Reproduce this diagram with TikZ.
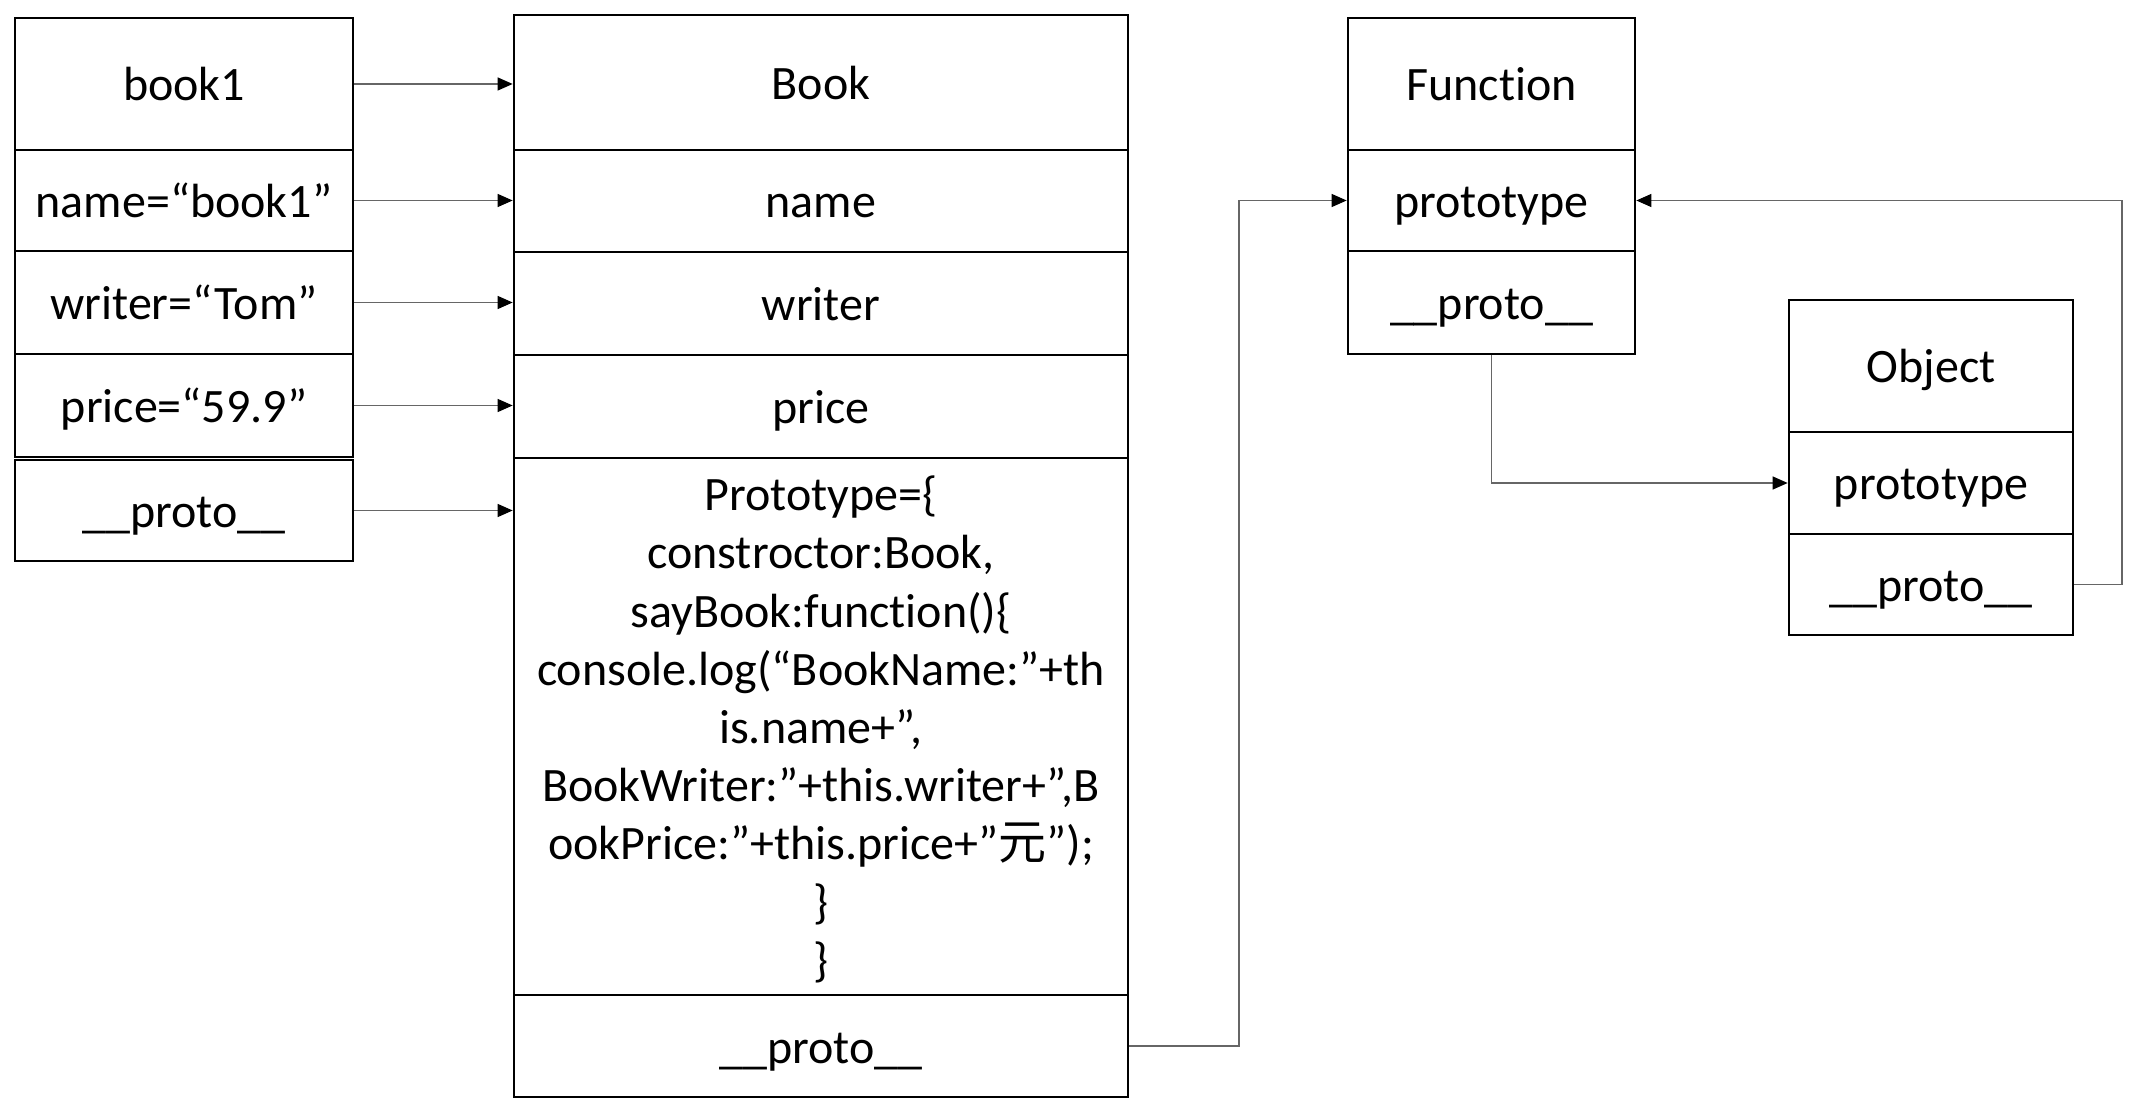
\documentclass[tikz,border=0pt]{standalone}
\usepackage{fontspec}
\setmainfont{Carlito}[Ligatures=NoCommon]
\newfontfamily\cjkfont{Noto Sans CJK SC}
\usetikzlibrary{arrows.meta,calc}
\newcommand\ystrut{\rule[-7pt]{0pt}{31pt}}
\newcommand\mkcell[6]{%
  \node[cell, minimum width={(#4-#2)*0.5pt}, minimum height={(#5-#3)*0.5pt}]
    (#1) at ({(#2+#4)/2},{(#3+#5)/2}) {#6};}
\begin{document}
\begin{tikzpicture}[x=0.5pt,y=-0.5pt,
  cell/.style={draw, line width=1.35pt, inner sep=0pt, align=center,
    font=\fontsize{24}{29.1}\selectfont},
  conn/.style={draw=black!60, line width=0.6pt,
    -{Triangle[length=7.5pt,width=6.5pt,color=black]}}]
\useasboundingbox (0,0) rectangle (2151,1111);
% book1 object
\mkcell{b1t}{15}{18}{353}{150}{\ystrut book1}
\mkcell{b1n}{15}{150}{353}{251}{\ystrut name=“book1”}
\mkcell{b1w}{15}{251}{353}{354}{\ystrut writer=“Tom”}
\mkcell{b1p}{15}{354}{353}{457}{\ystrut price=“59.9”}
\mkcell{b1pr}{15}{460}{353}{561}{\ystrut \_\_proto\_\_}
% Book constructor
\mkcell{bt}{514}{15}{1128}{150}{\ystrut Book}
\mkcell{bn}{514}{150}{1128}{252}{\ystrut name}
\mkcell{bw}{514}{252}{1128}{355}{\ystrut writer}
\mkcell{bp}{514}{355}{1128}{458}{\ystrut price}
\mkcell{bpt}{514}{458}{1128}{995}{\ystrut Prototype=\{\\
constroctor:Book,\\
sayBook:function()\{\\
console.log(“BookName:”+th\\
is.name+”,\\
BookWriter:”+this.writer+”,B\\
ookPrice:”+this.price+”{\cjkfont 元}”);\\
\}\\
\}\ystrut}
\mkcell{bpr}{514}{995}{1128}{1097}{\ystrut \_\_proto\_\_}
% Function
\mkcell{ft}{1348}{18}{1635}{150}{\ystrut Function}
\mkcell{fp}{1348}{150}{1635}{251}{\ystrut prototype}
\mkcell{fpr}{1348}{251}{1635}{354}{\ystrut \_\_proto\_\_}
% Object
\mkcell{ot}{1789}{300}{2073}{432}{\ystrut Object}
\mkcell{op}{1789}{432}{2073}{534}{\ystrut prototype}
\mkcell{opr}{1789}{534}{2073}{635}{\ystrut \_\_proto\_\_}
% bend points
\coordinate (k1) at (1239,0);
\coordinate (k2) at (2122,0);
% connectors
\draw[conn] (b1t.east)  -- (b1t.east -| bt.west);
\draw[conn] (b1n.east)  -- (b1n.east -| bn.west);
\draw[conn] (b1w.east)  -- (b1w.east -| bw.west);
\draw[conn] (b1p.east)  -- (b1p.east -| bp.west);
\draw[conn] (b1pr.east) -- (b1pr.east -| bpt.west);
\draw[conn] (bpr.east) -- (bpr.east -| k1) |- (fp.west);
\draw[conn] (fpr.south) |- (op.west);
\draw[conn] (opr.east) -- (opr.east -| k2) |- (fp.east);
\end{tikzpicture}
\end{document}
